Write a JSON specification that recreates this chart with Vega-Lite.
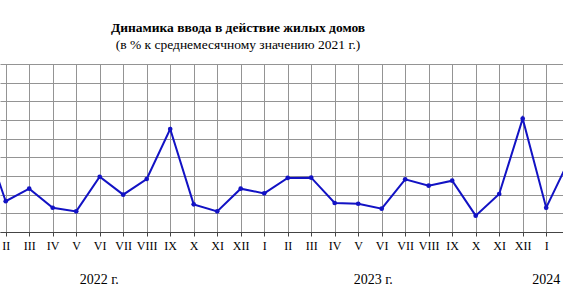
{
  "$schema": "https://vega.github.io/schema/vega-lite/v6.json",
  "width": 563,
  "height": 168,
  "autosize": {"type": "none"},
  "padding": {"left": 0, "top": 64, "right": 0, "bottom": 72},
  "title": {
    "text": "Динамика ввода в действие жилых домов",
    "subtitle": "(в % к среднемесячному значению 2021 г.)",
    "anchor": "middle",
    "dx": -43.5,
    "offset": 13,
    "font": "Liberation Serif",
    "fontSize": 13.5,
    "fontWeight": "bold",
    "color": "#000000",
    "subtitleFont": "Liberation Serif",
    "subtitleFontSize": 13.5,
    "subtitleColor": "#000000",
    "subtitlePadding": 3
  },
  "config": {
    "view": {"stroke": null},
    "font": "Liberation Serif"
  },
  "resolve": {"axis": {"x": "independent"}},
  "layer": [
    {
      "data": {
        "values": [
          {"t": 0, "v": 106.6},
          {"t": 1, "v": 33.0},
          {"t": 2, "v": 46.4},
          {"t": 3, "v": 26.0},
          {"t": 4, "v": 22.1},
          {"t": 5, "v": 59.2},
          {"t": 6, "v": 40.0},
          {"t": 7, "v": 56.8},
          {"t": 8, "v": 110.3},
          {"t": 9, "v": 29.6},
          {"t": 10, "v": 22.1},
          {"t": 11, "v": 46.4},
          {"t": 12, "v": 41.4},
          {"t": 13, "v": 57.9},
          {"t": 14, "v": 58.2},
          {"t": 15, "v": 31.1},
          {"t": 16, "v": 30.3},
          {"t": 17, "v": 25.0},
          {"t": 18, "v": 56.4},
          {"t": 19, "v": 49.6},
          {"t": 20, "v": 55.0},
          {"t": 21, "v": 17.5},
          {"t": 22, "v": 40.7},
          {"t": 23, "v": 121.4},
          {"t": 24, "v": 26.0},
          {"t": 25, "v": 78.5}
        ]
      },
      "encoding": {
        "x": {
          "field": "t",
          "type": "quantitative",
          "scale": {"domain": [0.7574, 24.715], "nice": false, "zero": false},
          "axis": {
            "orient": "bottom",
            "values": [1,2,3,4,5,6,7,8,9,10,11,12,13,14,15,16,17,18,19,20,21,22,23,24],
            "labelExpr": "['I','II','III','IV','V','VI','VII','VIII','IX','X','XI','XII'][datum.value % 12]",
            "title": null,
            "grid": true,
            "gridColor": "#949494",
            "gridWidth": 1,
            "domainColor": "#444444",
            "tickColor": "#444444",
            "tickSize": 4,
            "labelFont": "Liberation Serif",
            "labelFontSize": 12,
            "labelColor": "#000000",
            "labelPadding": 4,
            "labelAngle": 0,
            "labelBound": false,
            "labelOverlap": false,
            "labelFlush": false
          }
        },
        "y": {
          "field": "v",
          "type": "quantitative",
          "scale": {"domain": [0, 180], "nice": false, "zero": false},
          "axis": {
            "values": [0, 20, 40, 60, 80, 100, 120, 140, 160, 180],
            "title": null,
            "labels": false,
            "ticks": false,
            "domain": false,
            "grid": true,
            "gridColor": "#949494",
            "gridWidth": 1
          }
        }
      },
      "layer": [
        {"mark": {"type": "line", "color": "#1212c4", "strokeWidth": 2, "clip": true}},
        {"mark": {"type": "point", "filled": true, "size": 22, "opacity": 1, "color": "#1212c4", "clip": true}}
      ]
    },
    {
      "data": {
        "values": [
          {"t": 4.96, "year": "2022 г."},
          {"t": 16.62, "year": "2023 г."},
          {"t": 24.22, "year": "2024 г."}
        ]
      },
      "mark": {"type": "point", "opacity": 0},
      "encoding": {
        "x": {
          "field": "t",
          "type": "quantitative",
          "scale": {"domain": [0.7574, 24.715], "nice": false, "zero": false},
          "axis": {
            "orient": "bottom",
            "values": [4.96, 16.62, 24.22],
            "labelExpr": "datum.value < 10 ? '2022 г.' : datum.value < 20 ? '2023 г.' : '2024 г.'",
            "title": null,
            "grid": false,
            "ticks": false,
            "tickSize": 0,
            "domain": false,
            "labelFont": "Liberation Serif",
            "labelFontSize": 14,
            "labelColor": "#000000",
            "labelPadding": 40,
            "labelAngle": 0,
            "labelBound": false,
            "labelOverlap": false,
            "labelFlush": false
          }
        }
      }
    }
  ]
}
